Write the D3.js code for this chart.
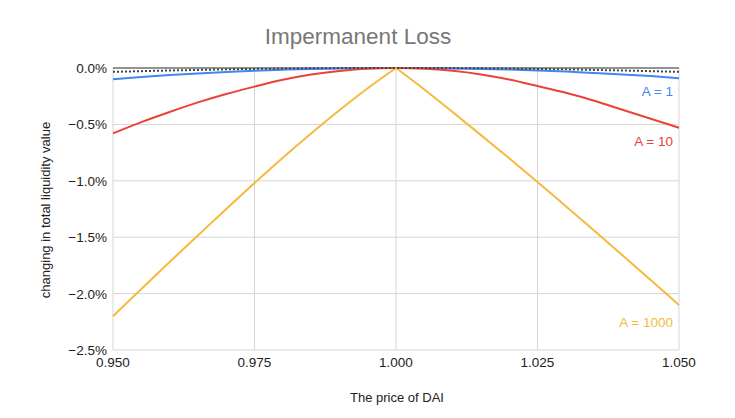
<!DOCTYPE html>
<html><head><meta charset="utf-8">
<script src="https://cdn.jsdelivr.net/npm/d3@7"></script>
<style>body{margin:0;background:#fff;font-family:"Liberation Sans",Arial,sans-serif;}</style>
</head><body><svg id="c" width="735" height="418"></svg>
<script>
const prices = [0.950,0.955,0.960,0.965,0.970,0.975,0.980,0.985,0.990,0.995,1.000,1.005,1.010,1.015,1.020,1.025,1.030,1.035,1.040,1.045,1.050];
const a1 = [-0.10,-0.08,-0.063,-0.048,-0.035,-0.024,-0.015,-0.008,-0.004,-0.001,0,-0.001,-0.004,-0.008,-0.014,-0.022,-0.032,-0.044,-0.057,-0.072,-0.09];
const a10 = [-0.58,-0.48,-0.39,-0.305,-0.23,-0.165,-0.105,-0.058,-0.026,-0.006,0,-0.006,-0.025,-0.057,-0.102,-0.16,-0.22,-0.29,-0.37,-0.45,-0.53];
const a1000 = [-2.20,-1.96,-1.72,-1.485,-1.25,-1.02,-0.795,-0.58,-0.375,-0.18,0,-0.19,-0.39,-0.595,-0.80,-1.01,-1.225,-1.44,-1.66,-1.88,-2.10];
const base = [-0.034,-0.028,-0.022,-0.017,-0.012,-0.008,-0.005,-0.003,-0.001,0,0,0,-0.001,-0.003,-0.005,-0.008,-0.012,-0.017,-0.022,-0.028,-0.034];
const xTicks = [0.950,0.975,1.000,1.025,1.050];
const yTicks = [0,-0.5,-1.0,-1.5,-2.0,-2.5];
const seriesNames = ["A = 1","A = 10","A = 1000"];
const colors = ["#4285F4","#EA4335","#F6B93B"];

const svg = d3.select("#c");
const x = d3.scaleLinear().domain([0.95,1.05]).range([113,679]);
const y = d3.scaleLinear().domain([-2.5,0]).range([350,68]);

// grid
svg.append("g").selectAll("line").data(yTicks.filter(d=>d!==0)).join("line")
  .attr("x1",x(0.95)).attr("x2",x(1.05)).attr("y1",d=>y(d)).attr("y2",d=>y(d))
  .attr("stroke","#d6d6d6").attr("stroke-width",1);
svg.append("g").selectAll("line").data(xTicks).join("line")
  .attr("x1",d=>x(d)).attr("x2",d=>x(d)).attr("y1",y(0)).attr("y2",y(-2.5))
  .attr("stroke","#d6d6d6").attr("stroke-width",1);
svg.append("line").attr("x1",x(0.95)).attr("x2",x(1.05)).attr("y1",y(0)).attr("y2",y(0))
  .attr("stroke","#6e6e6e").attr("stroke-width",1.5);

// tick labels
svg.append("g").selectAll("text").data(yTicks).join("text")
  .attr("x",107).attr("y",d=>y(d)+5).attr("text-anchor","end")
  .attr("font-size",13.5).attr("fill","#222").text(d=>d3.format(".1f")(d)+"%");
svg.append("g").selectAll("text").data(xTicks).join("text")
  .attr("x",d=>x(d)).attr("y",367).attr("text-anchor","middle")
  .attr("font-size",13.5).attr("fill","#222").text(d=>d3.format(".3f")(d));

const pts = s => s.map((v,i)=>[prices[i],v]);
const smooth = d3.line().x(d=>x(d[0])).y(d=>y(d[1])).curve(d3.curveMonotoneX);
[a1,a10].forEach((s,k)=>{
  svg.append("path").attr("d",smooth(pts(s))).attr("fill","none")
    .attr("stroke",colors[k]).attr("stroke-width",2);
});
// A = 1000: two smooth halves meeting in a sharp peak at 1.000
const p3 = pts(a1000);
svg.append("path").attr("d",smooth(p3.slice(0,11))+smooth(p3.slice(10)).replace(/^M/," M")).attr("fill","none")
  .attr("stroke",colors[2]).attr("stroke-width",2).attr("stroke-linejoin","round");
svg.append("path").attr("d",smooth(pts(base))).attr("fill","none")
  .attr("stroke","#444").attr("stroke-width",2).attr("stroke-dasharray","2,2");

// series labels
const labY = [-0.2,-0.65,-2.25];
seriesNames.forEach((n,k)=>{
  svg.append("text").attr("x",673).attr("y",y(labY[k])+5).attr("text-anchor","end")
    .attr("font-size",13.5).attr("fill",colors[k]).text(n);
});

svg.append("text").attr("x",358).attr("y",44).attr("text-anchor","middle")
  .attr("font-size",22.5).attr("fill","#777").text("Impermanent Loss");
svg.append("text").attr("x",397).attr("y",402).attr("text-anchor","middle")
  .attr("font-size",13).attr("fill","#222").text("The price of DAI");
svg.append("text").attr("transform","translate(50,210) rotate(-90)").attr("text-anchor","middle")
  .attr("font-size",13).attr("fill","#222").text("changing in total liquidity value");
</script></body></html>
